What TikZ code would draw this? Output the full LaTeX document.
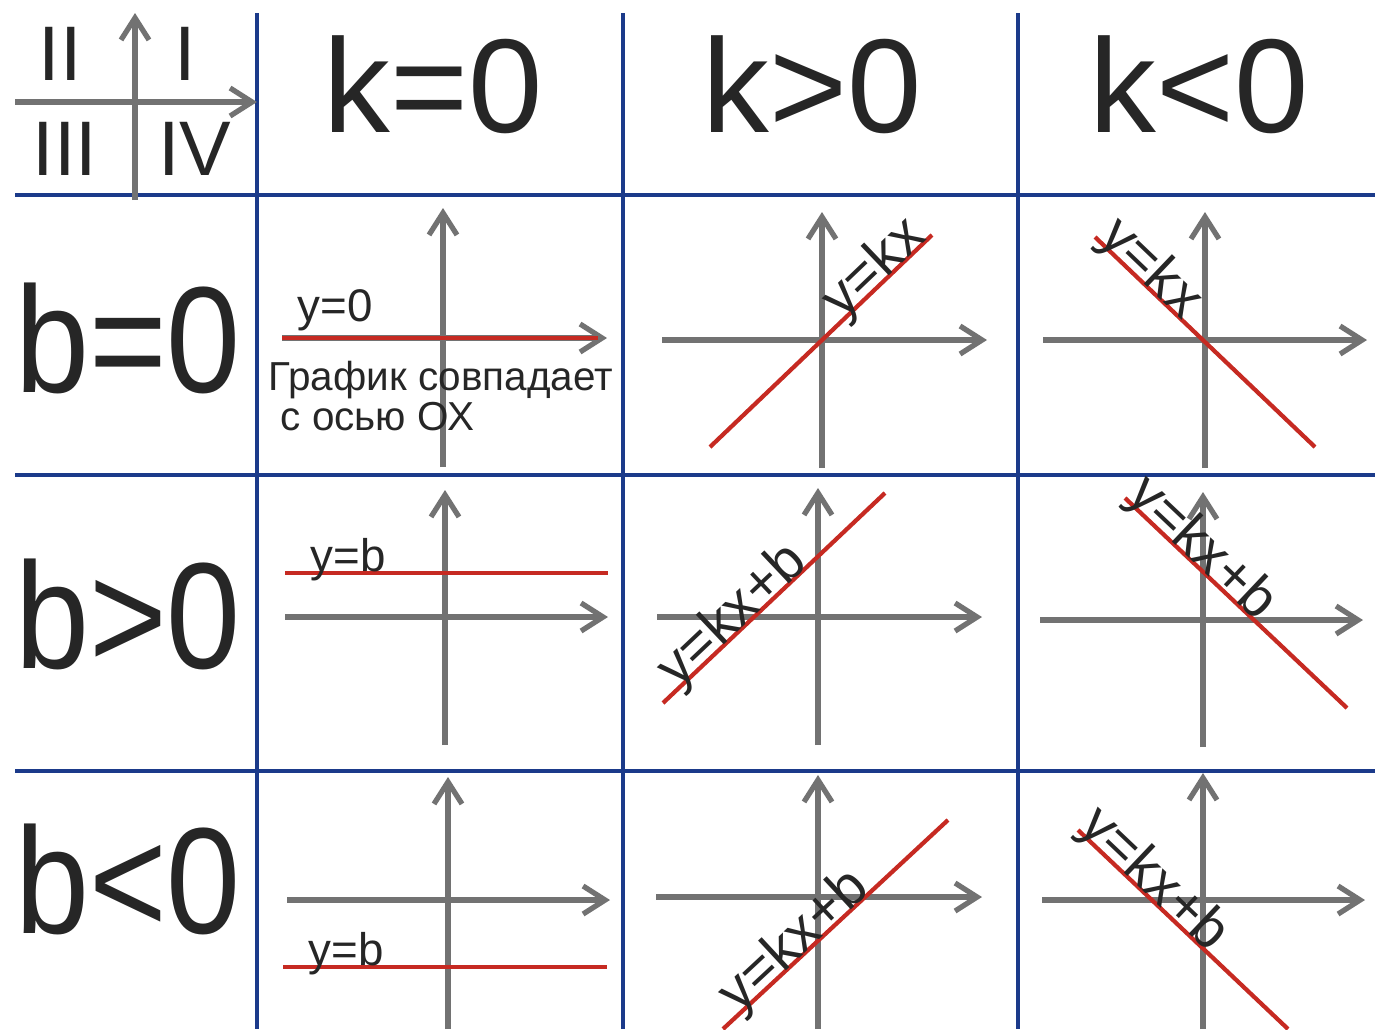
\documentclass[tikz,border=0pt]{standalone}
\usepackage{fontspec}
\setmainfont{Liberation Sans}
\newfontfamily\headfont[FakeStretch=0.88]{Liberation Sans}
\usepackage{tikz}
\usetikzlibrary{arrows.meta}
\definecolor{gridblue}{HTML}{1B3A8A}
\definecolor{axisgray}{HTML}{727272}
\definecolor{graphred}{HTML}{C62A22}
\definecolor{ink}{HTML}{262626}

\begin{document}
\begin{tikzpicture}[
    x=0.01cm, y=-0.01cm,
    gridline/.style={draw=gridblue, line width=1.1pt},
    axisarrow/.style={draw=axisgray, line width=1.5pt,
                      -{Straight Barb[length=2.2mm, width=2.8mm]}},
    redline/.style={draw=graphred, line width=1.2pt},
    colhead/.style={font=\fontsize{38}{38}\selectfont, text=ink,
                    anchor=base, inner sep=0pt},
    rowhead/.style={font=\headfont\fontsize{43}{43}\selectfont, text=ink,
                    anchor=base, inner sep=0pt},
    quad/.style={font=\fontsize{22}{22}\selectfont, text=ink,
                 anchor=base, inner sep=0pt},
    eqsmall/.style={font=\fontsize{13}{13}\selectfont, text=ink,
                    anchor=base west, inner sep=0pt},
    eqlabel/.style={font=\fontsize{16}{16}\selectfont, text=ink,
                    anchor=base, inner sep=0pt},
    note/.style={font=\fontsize{11.5}{11.5}\selectfont, text=ink,
                 anchor=base west, inner sep=0pt}
  ]
  \useasboundingbox (0,0) rectangle (1375,1029);

  % table lines
  \foreach \gy in {195, 475, 771}
    \draw[gridline] (15,\gy) -- (1375,\gy);
  \foreach \gx in {257, 623, 1018}
    \draw[gridline] (\gx,13) -- (\gx,1029);

  % quadrants
  \draw[axisarrow] (135,200) -- (135,13);
  \draw[axisarrow] (15,102) -- (257,102);
  \node[quad] (q2) at (60,80) {II};
  \node[quad] (q1) at (185,80) {I};
  \node[quad] (q3) at (65,175) {III};
  \node[quad] (q4) at (195,175) {IV};

  \node[colhead] (kzero) at (433,132) {k=0};
  \node[colhead] (kpos) at (812,132) {k>0};
  \node[colhead] (kneg) at (1199,132) {k<0};
  \node[rowhead] (bzero) at (128,392) {b=0};
  \node[rowhead] (bpos) at (128,668) {b>0};
  \node[rowhead] (bneg) at (128,933) {b<0};

  % b=0
  \draw[axisarrow] (443,467) -- (443,208);
  \draw[axisarrow] (282,338) -- (607,338);
  \draw[redline] (282,338) -- (598,338);
  \node[eqsmall] (yzero) at (297,321) {y=0};
  \node[note] (note1) at (268,390) {График совпадает};
  \node[note] (note2) at (280,430) {с осью ОХ};

  \draw[axisarrow] (822,468) -- (822,212);
  \draw[axisarrow] (662,340) -- (987,340);
  \draw[redline] (710,447) -- (932,235);
  \node[eqlabel, rotate=43.7] (lbl12) at (885,280) {y=kx};

  \draw[axisarrow] (1205,468) -- (1205,212);
  \draw[axisarrow] (1043,340) -- (1367,340);
  \draw[redline] (1095,237) -- (1315,447);
  \node[eqlabel, rotate=-43.7] (lbl13) at (1140,280) {y=kx};

  % b>0
  \draw[axisarrow] (445,745) -- (445,490);
  \draw[axisarrow] (285,617) -- (608,617);
  \draw[redline] (285,573) -- (608,573);
  \node[eqsmall] (lbl21) at (310,571) {y=b};

  \draw[axisarrow] (818,745) -- (818,488);
  \draw[axisarrow] (657,617) -- (982,617);
  \draw[redline] (663,703) -- (885,493);
  \node[eqlabel, rotate=43.4] (lbl22) at (743,627) {y=kx+b};

  \draw[axisarrow] (1203,747) -- (1203,492);
  \draw[axisarrow] (1040,620) -- (1363,620);
  \draw[redline] (1125,498) -- (1347,708);
  \node[eqlabel, rotate=-43.4] (lbl23) at (1191,560) {y=kx+b};

  % b<0
  \draw[axisarrow] (448,1029) -- (448,777);
  \draw[axisarrow] (287,900) -- (610,900);
  \draw[redline] (283,967) -- (607,967);
  \node[eqsmall] (lbl31) at (308,965) {y=b};

  \draw[axisarrow] (818,1029) -- (818,775);
  \draw[axisarrow] (656,897) -- (982,897);
  \draw[redline] (723,1029) -- (948,820);
  \node[eqlabel, rotate=42.9] (lbl32) at (805,953) {y=kx+b};

  \draw[axisarrow] (1203,1029) -- (1203,773);
  \draw[axisarrow] (1042,900) -- (1365,900);
  \draw[redline] (1078,830) -- (1288,1029);
  \node[eqlabel, rotate=-43.5] (lbl33) at (1143,891) {y=kx+b};
\end{tikzpicture}
\end{document}
